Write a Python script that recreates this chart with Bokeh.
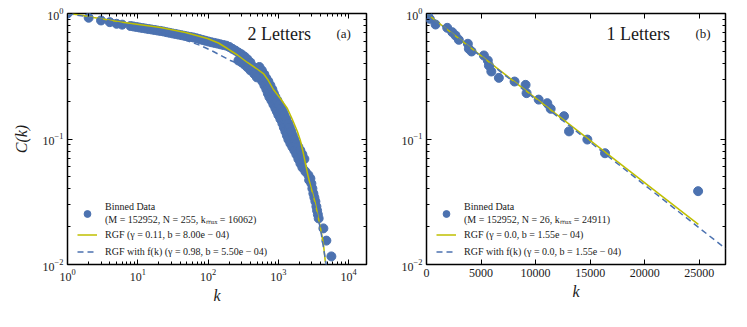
from bokeh.plotting import figure
from bokeh.models import (LogAxis, LinearAxis, Legend, LegendItem, Label,
                          Range1d, FixedTicker)
from bokeh.layouts import row
from bokeh.embed import file_html
from bokeh.resources import INLINE

# ---------------- data: panel (a) 2 Letters ----------------
k_a = [1, 2, 3, 4, 5, 6,
       7.88, 8.69, 9.58, 10.57, 11.66, 12.87, 14.20, 15.66, 17.28, 19.06,
       21.03, 23.21, 25.60, 28.25, 31.16, 34.38, 37.93, 41.84, 46.17, 50.93,
       56.19, 61.99, 68.39, 75.46, 83.23, 91.84, 101.3, 111.8, 123.3, 136.1,
       150.1, 165.6, 182.7, 201.6, 222.4, 245.4, 270.6, 298.6, 329.5, 363.5, 401.0,
       442, 480, 521, 557, 594, 635, 677, 711, 747, 798,
       852, 910, 955, 1003, 1071, 1144, 1201, 1262, 1326, 1392,
       1486, 1587, 1694, 1809, 1932, 2063, 2203, 2429, 2681, 2862,
       2957, 3055, 3157, 3262, 3371, 3483, 3565, 3659, 3756, 4382, 4833, 5693,
       270.6, 298.6, 329.5, 363.5, 401.0, 455, 495,
       538, 584, 634, 678, 723, 773, 824, 865, 909, 971,
       1037, 1107, 1162, 1221, 1303, 1392, 1462, 1536, 1614, 1694,
       1808, 1931, 2062, 2202, 2351, 2750]
C_a = [1.0, 0.925, 0.88, 0.853, 0.828, 0.815,
       0.795, 0.788, 0.781, 0.773, 0.766, 0.759, 0.752, 0.746, 0.739, 0.732,
       0.726, 0.719, 0.710, 0.702, 0.694, 0.687, 0.679, 0.672, 0.664, 0.657,
       0.650, 0.644, 0.635, 0.625, 0.616, 0.607, 0.598, 0.590, 0.583, 0.576,
       0.568, 0.561, 0.554, 0.541, 0.523, 0.507, 0.489, 0.473, 0.454, 0.432, 0.407,
       0.3748, 0.3514, 0.3265, 0.3034, 0.2872, 0.2668, 0.2480, 0.2304, 0.2161, 0.2026,
       0.1883, 0.1750, 0.1656, 0.1553, 0.1443, 0.1329, 0.1235, 0.1148, 0.1066, 0.0991,
       0.0921, 0.0864, 0.0810, 0.0752, 0.0693, 0.0638, 0.0593, 0.0551, 0.0516, 0.0484,
       0.0442, 0.0403, 0.0368, 0.0342, 0.0318, 0.0290, 0.0269, 0.0250, 0.0233, 0.0194,
       0.0155, 0.0116,
       0.422, 0.409, 0.392, 0.373, 0.352, 0.330, 0.310,
       0.3748, 0.3514, 0.3265, 0.3034, 0.2872, 0.2668, 0.2480, 0.2304, 0.2161, 0.2026,
       0.1883, 0.1750, 0.1656, 0.1553, 0.1443, 0.1329, 0.1235, 0.1148, 0.1066, 0.0991,
       0.0921, 0.0864, 0.0810, 0.0752, 0.0693, 0.0470]

# RGF fit curve (a)
rgf_k_a = [1, 1.531, 2.344, 5.675, 21.03, 47.71, 98.06, 140.6, 188.8, 262.0, 363.5,
           488.1, 614.0, 723.3, 851.8, 1071, 1347, 1587, 1870, 2063, 2276, 2681,
           3055, 3371, 3972, 4382, 4680]
rgf_C_a = [1.0, 0.9729, 0.9293, 0.8555, 0.773, 0.7056, 0.6321, 0.5819, 0.5261, 0.4670,
           0.4071, 0.3645, 0.3325, 0.2924, 0.2480, 0.2102, 0.1750, 0.1430, 0.1148,
           0.0973, 0.0766, 0.0493, 0.0375, 0.0306, 0.0197, 0.0147, 0.0104]

# RGF with f(k) curve (a)
rgff_k_a = [1, 2.95, 10.9, 34.4, 78, 119, 208, 340, 521, 772, 1183, 1641, 2276,
            3053, 3972, 4830]
rgff_C_a = [1.0, 0.904, 0.773, 0.656, 0.556, 0.498, 0.422, 0.378, 0.292, 0.206,
            0.130, 0.0887, 0.0582, 0.0355, 0.0194, 0.0098]

# ---------------- data: panel (b) 1 Letters ----------------
k_b = [156, 303, 830, 1900, 2360, 2660, 2960, 3790, 3880, 4130, 5260, 5620, 5720,
       5940, 6630, 8070, 9080, 9170, 10280, 11070, 11380, 12600, 13060, 14740,
       16360, 24890]
C_b = [0.946, 0.907, 0.817, 0.769, 0.710, 0.668, 0.617, 0.574, 0.523, 0.498, 0.463,
       0.422, 0.385, 0.345, 0.307, 0.287, 0.270, 0.232, 0.206, 0.193, 0.174, 0.152,
       0.115, 0.099, 0.077, 0.0384]

rgf_k_b = [0, 24911]
rgf_C_b = [1.0, 0.0209]
rgff_k_b = [0, 27400]
rgff_C_b = [1.0, 0.0134]

# tick positions
x_major_a = [1, 10, 100, 1000, 10000]
y_major = [0.01, 0.1, 1]
x_major_b = [0, 5000, 10000, 15000, 20000, 25000]

labels_a = ["Binned Data\n(M = 152952, N = 255, kₘₐₓ = 16062)",
            "RGF (γ = 0.11, b = 8.00e − 04)",
            "RGF with f(k) (γ = 0.98, b = 5.50e − 04)"]
labels_b = ["Binned Data\n(M = 152952, N = 26, kₘₐₓ = 24911)",
            "RGF (γ = 0.0, b = 1.55e − 04)",
            "RGF with f(k) (γ = 0.0, b = 1.55e − 04)"]

BLUE = "#4c72b0"
YEL = "#bfbf00"
FONT = "Liberation Serif"
TXT = "#1a1a1a"


def log_minors(lo_exp, hi_exp):
    return [m * 10.0 ** e for e in range(lo_exp, hi_exp) for m in range(2, 10)]


def style_axis(ax, show_labels=True):
    ax.axis_line_color = None
    ax.major_tick_in = 5
    ax.major_tick_out = 0
    ax.minor_tick_in = 3
    ax.minor_tick_out = 0
    ax.major_tick_line_color = "black"
    ax.minor_tick_line_color = "black"
    ax.major_label_text_font = FONT
    ax.major_label_text_color = TXT
    if show_labels:
        ax.major_label_text_font_size = "12px"
        ax.major_label_standoff = 4
    else:
        ax.major_label_text_font_size = "1px"
        ax.major_label_text_alpha = 0
        ax.major_label_standoff = 0
    ax.axis_label_text_font = FONT
    ax.axis_label_text_font_style = "italic"
    ax.axis_label_text_font_size = "16px"
    ax.axis_label_text_color = TXT


def make_fig(xtype, xr, left, right):
    p = figure(x_axis_type=xtype, y_axis_type="log", x_range=xr,
               y_range=Range1d(0.01, 1.0), frame_width=299, frame_height=251,
               min_border_left=left, min_border_right=right, min_border_top=13,
               min_border_bottom=55, output_backend="svg", toolbar_location=None)
    p.outline_line_color = "black"
    p.outline_line_width = 1.5
    p.xgrid.visible = False
    p.ygrid.visible = False
    p.background_fill_color = "white"
    p.border_fill_color = "white"
    return p


def add_legend(p, renderers, labels):
    items = [LegendItem(label=lab, renderers=[r]) for lab, r in zip(labels, renderers)]
    leg = Legend(items=items, location=(10, 4), padding=0, margin=0, spacing=0,
                 glyph_width=20, glyph_height=17, label_height=17, label_standoff=8,
                 label_text_font=FONT, label_text_font_size="10px",
                 label_text_line_height=1.05,
                 label_text_color=TXT, border_line_color=None,
                 background_fill_alpha=0)
    p.add_layout(leg)


def add_titles(p, title, tag):
    p.add_layout(Label(x=180, y=231, x_units="screen", y_units="screen", text=title,
                       text_font=FONT, text_font_size="18px", text_color=TXT,
                       text_baseline="middle"))
    p.add_layout(Label(x=269, y=231, x_units="screen", y_units="screen", text=tag,
                       text_font=FONT, text_font_size="13px", text_color=TXT,
                       text_baseline="middle"))


# ---------------- panel (a) ----------------
pa = make_fig("log", Range1d(1, 18000), 67, 15)
xt_a = FixedTicker(ticks=x_major_a, minor_ticks=log_minors(0, 5))
yt = FixedTicker(ticks=y_major, minor_ticks=log_minors(-2, 0))
pa.xaxis.ticker = xt_a
pa.yaxis.ticker = yt
style_axis(pa.xaxis[0])
style_axis(pa.yaxis[0])
pa.xaxis.axis_label = "k"
pa.yaxis.axis_label = "C(k)"
pa.xaxis.axis_label_standoff = 3
pa.yaxis.axis_label_standoff = 10
top_a = LogAxis(ticker=xt_a)
style_axis(top_a, False)
pa.add_layout(top_a, "above")
right_a = LogAxis(ticker=yt)
style_axis(right_a, False)
pa.add_layout(right_a, "right")

ra1 = pa.scatter(k_a, C_a, size=9, color=BLUE, line_color=BLUE)
ra2 = pa.line(rgf_k_a, rgf_C_a, line_color=YEL, line_width=1.5)
ra3 = pa.line(rgff_k_a, rgff_C_a, line_color=BLUE, line_width=1.5, line_dash="6 4")
add_legend(pa, [ra1, ra2, ra3], labels_a)
add_titles(pa, "2 Letters", "(a)")

# ---------------- panel (b) ----------------
pb = make_fig("linear", Range1d(0, 27400), 45, 10)
xt_b = FixedTicker(ticks=x_major_b, minor_ticks=[])
pb.xaxis.ticker = xt_b
pb.yaxis.ticker = yt
style_axis(pb.xaxis[0])
style_axis(pb.yaxis[0])
pb.xaxis.axis_label = "k"
pb.xaxis.axis_label_standoff = 3
top_b = LinearAxis(ticker=xt_b)
style_axis(top_b, False)
pb.add_layout(top_b, "above")
right_b = LogAxis(ticker=yt)
style_axis(right_b, False)
pb.add_layout(right_b, "right")

rb1 = pb.scatter(k_b, C_b, size=9, color=BLUE, line_color=BLUE)
rb2 = pb.line(rgf_k_b, rgf_C_b, line_color=YEL, line_width=1.5)
rb3 = pb.line(rgff_k_b, rgff_C_b, line_color=BLUE, line_width=1.5, line_dash="6 4")
add_legend(pb, [rb1, rb2, rb3], labels_b)
add_titles(pb, "1 Letters", "(b)")

layout = row(pa, pb)
open("out.html", "w").write(file_html(layout, INLINE))
